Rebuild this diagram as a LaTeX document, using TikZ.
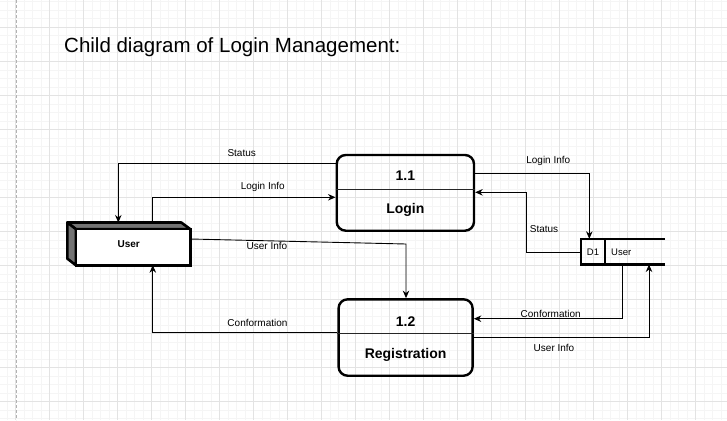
\documentclass[tikz,border=0pt]{standalone}
\usepackage{fontspec}
\setmainfont{Liberation Sans}
\usetikzlibrary{arrows.meta}

\begin{document}
\begin{tikzpicture}[x=1pt,y=-1pt,
    minorline/.style={draw=black!4,line width=0.6pt},
    majorline/.style={draw=black!11,line width=0.8pt},
    process/.style={draw=black,line width=2.4pt,rounded corners=9pt,inner sep=0},
    divider/.style={draw=black!85,line width=1pt},
    ptitle/.style={font=\bfseries\fontsize{14}{16}\selectfont,inner sep=0},
    storeline/.style={draw=black,line width=2.4pt},
    entityface/.style={fill=black!55,line width=2.6pt,line join=round},
    flow/.style={draw=black,line width=0.9pt,-{Stealth[length=7.5pt,width=6.5pt]}},
    lbl/.style={font=\fontsize{10}{12}\selectfont,inner sep=0}]

     \useasboundingbox (0,0) rectangle (727,420);

     %Grid
     \fill[white] (0,0) rectangle (727,420);
     \foreach \i in {0,...,85} \draw[minorline] ({6.8+8.5*\i},0) -- ({6.8+8.5*\i},420);
     \foreach \j in {0,...,49} \draw[minorline] (0,{1.8+8.5*\j}) -- (727,{1.8+8.5*\j});
     \foreach \i in {0,...,21} \draw[majorline] ({15.3+34*\i},0) -- ({15.3+34*\i},420);
     \foreach \j in {0,...,12} \draw[majorline] (0,{27.3+34*\j}) -- (727,{27.3+34*\j});
     \draw[black!30,dash pattern=on 3pt off 2pt] (16,0) -- (16,420);

     \node[anchor=base west,inner sep=0,font=\fontsize{20.5}{24}\selectfont] (title) at (64,52.3) {Child diagram of Login Management:};

     %External entity User
     \node[minimum width=122.5pt,minimum height=42.3pt,inner sep=0] (user) at (128.75,243.85) {};
     \path (user.north west) ++(8.5,6.6) coordinate (user-fnw);
     \path (user.north east) ++(0,6.6) coordinate (user-fne);
     \path (user.south west) ++(0,-6.6) coordinate (user-bsw);
     \filldraw[entityface] (user.north west) -- ++(114,0) -- (user-fne) -- (user-fnw) -- cycle;
     \filldraw[entityface] (user.north west) -- (user-fnw) -- (user.south -| user-fnw) -- (user-bsw) -- cycle;
     \filldraw[fill=white,line width=2.6pt] (user-fnw) rectangle (user.south east);
     \node[font=\bfseries\fontsize{10}{12}\selectfont,inner sep=0] (user-txt) at (user.center) {User};

     %Process 1.1
     \node[process,minimum width=137.3pt,minimum height=75.7pt] (login) at (405.35,192.85) {};
     \draw[divider] (login.west |- 0,189.3) -- (login.east |- 0,189.3);
     \node[ptitle] (login-no) at (405.35,176) {1.1};
     \node[ptitle] (login-name) at (405.35,210) {Login};

     %Process 1.2
     \node[process,minimum width=134pt,minimum height=76.4pt] (reg) at (405.6,337.5) {};
     \draw[divider] (reg.west |- 0,333.3) -- (reg.east |- 0,333.3);
     \node[ptitle] (reg-no) at (405.6,321.7) {1.2};
     \node[ptitle] (reg-name) at (405.6,355) {Registration};

     %Data store D1
     \node[minimum width=84pt,minimum height=25.3pt,inner sep=0] (store) at (623,251.65) {};
     \draw[storeline] (store.north east) -- (store.north west) -- (store.south west) -- (store.south east);
     \draw[storeline] (store.north west) ++(24,0) -- ++(0,25.3);
     \node[lbl,font=\fontsize{9.5}{11}\selectfont] (store-id) at (593,252.5) {D1};
     \node[lbl,anchor=west,font=\fontsize{9.5}{11}\selectfont] (store-name) at (611,252.5) {User};

     %Flows
     \draw[flow] (login.west |- 0,163.3) -| (user.north -| 118.3,0);
     \draw[flow] (user.north -| 152.7,0) |- (login.west |- 0,197.3);
     \draw[flow] (user.east |- 0,239) -- (406,244) -- (reg.north -| 406,0);
     \draw[flow] (reg.west |- 0,332.7) -| (user.south -| 152.8,0);
     \draw[flow] (login.east |- 0,173.3) -| (store.north -| 589.3,0);
     \draw[flow] (store.west |- 0,252.7) -| (526.7,192.3) -- (login.east |- 0,192.3);
     \draw[flow] (store.south -| 622.3,0) |- (reg.east |- 0,318.7);
     \draw[flow] (reg.east |- 0,337.3) -| (store.south -| 649,0);

     \node[lbl] (st-l) at (241.7,152.7) {Status};
     \node[lbl] (li-l) at (262.8,186.7) {Login Info};
     \node[lbl] (ui-l) at (267,245.7) {User Info};
     \node[lbl] (cf-l) at (257.5,322.7) {Conformation};
     \node[lbl] (li-r) at (548.3,161) {Login Info};
     \node[lbl] (st-r) at (544,228.7) {Status};
     \node[lbl] (cf-r) at (550.7,313.7) {Conformation};
     \node[lbl] (ui-r) at (554,347.7) {User Info};

    \end{tikzpicture}
\end{document}
